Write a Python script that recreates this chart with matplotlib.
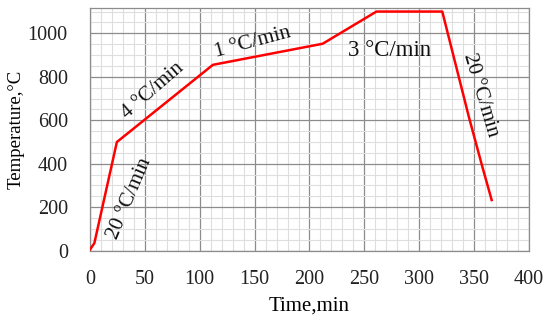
import matplotlib.pyplot as plt
from matplotlib.ticker import MultipleLocator

plt.rcParams['font.family'] = ['Liberation Serif', 'DejaVu Serif']

# heating / cooling profile
time_min = [0, 4, 24.5, 112, 212, 261, 321, 345.5, 357.5, 366]
temp_c = [5, 35, 500, 855, 952, 1100, 1100, 610, 386, 233]

rates = ['20 °C/min', '4 °C/min', '1 °C/min', '3 °C/min', '20 °C/min']
rate_x = [36, 57.5, 148.5, 272.7, 356]
rate_y = [242, 736, 958, 923, 716]
rate_rot = [67, 41, 15, 0, -73.5]
rate_fs = [15, 15, 15.5, 16.5, 15]

fig = plt.figure(figsize=(5.5, 3.23), dpi=100)
ax = fig.add_axes([0.1636, 0.2238, 0.7982, 0.7505])

ax.plot(time_min, temp_c, color='#ff0000', lw=1.8, zorder=3)

for t, x, y, r, fs in zip(rates, rate_x, rate_y, rate_rot, rate_fs):
    ax.text(x, y, t, rotation=r, rotation_mode='anchor', ha='center', va='center',
            fontsize=fs, color='#111111')

ax.set_xlim(0, 400)
ax.set_ylim(0, 1115)
ax.xaxis.set_major_locator(MultipleLocator(50))
ax.yaxis.set_major_locator(MultipleLocator(200))
ax.xaxis.set_minor_locator(MultipleLocator(10))
ax.yaxis.set_minor_locator(MultipleLocator(50))
ax.grid(which='major', color='#8c8c8c', lw=0.9)
ax.grid(which='minor', color='#dedede', lw=0.8)
ax.set_axisbelow(True)
ax.tick_params(which='both', length=0, labelsize=14.5, colors='#222222')
ax.tick_params(axis='x', pad=14)
ax.tick_params(axis='y', pad=16)
for s in ax.spines.values():
    s.set_color('#8c8c8c')
    s.set_linewidth(0.9)

ax.set_xlabel('Time,min', fontsize=15, labelpad=5)
ax.set_ylabel('Temperature,°C', fontsize=13.5, labelpad=2)

fig.savefig('out.png', dpi=100)
